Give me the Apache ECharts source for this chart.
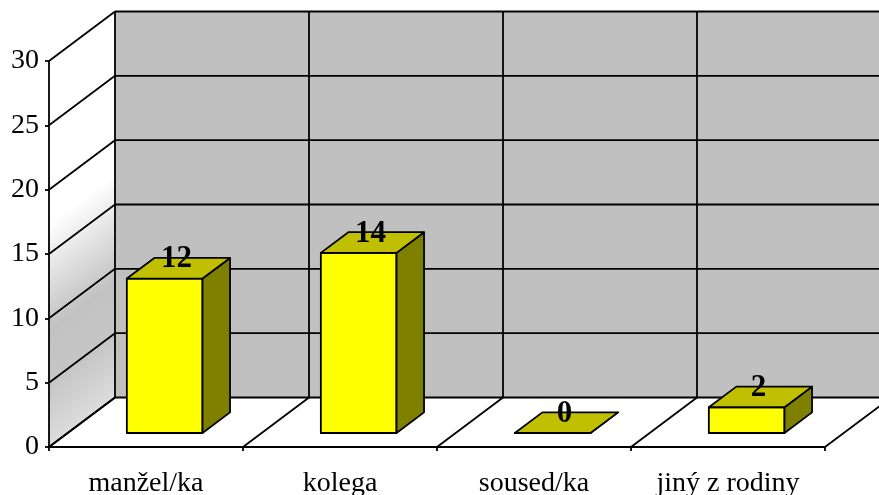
<!DOCTYPE html>
<html>
<head>
<meta charset="utf-8">
<script src="https://cdn.jsdelivr.net/npm/echarts@6/dist/echarts.min.js"></script>
<style>
  html, body { margin: 0; padding: 0; background: #fff; }
  #chart { width: 879px; height: 495px; }
</style>
</head>
<body>
<div id="chart"></div>
<script>
// Data
const categories = ['manžel/ka', 'kolega', 'soused/ka', 'jiný z rodiny'];
const counts = [12, 14, 0, 2];
const yTicks = [0, 5, 10, 15, 20, 25, 30];

// Pseudo-3D geometry: offset from the front plane to the back wall,
// and where each bar sits inside that depth (as fractions of it).
const DX = 66, DY = -49.5;
const BAR_FRONT = 0.283, BAR_BACK = 0.70;
const BAR_RATIO = 0.39;
const FONT = '"Liberation Serif", "Times New Roman", serif';
const LINE_W = 1.8;

const chart = echarts.init(document.getElementById('chart'), null, { renderer: 'canvas' });

function line(x1, y1, x2, y2) {
  return { type: 'line', shape: { x1, y1, x2, y2 }, style: { stroke: '#000', lineWidth: LINE_W } };
}

// Walls, floor and their grid lines
function renderWalls(params, api) {
  const n = categories.length;
  const bw = api.size([1, 0])[0];
  const x0 = api.coord([0, 0])[0] - bw / 2;
  const xN = x0 + bw * n;
  const y0 = api.coord([0, 0])[1];
  const yTop = api.coord([0, yTicks[yTicks.length - 1]])[1];

  // gradient across the left wall, running perpendicular to its slanted edges
  const len = Math.hypot(DX, DY);
  const nx = -DY / len, ny = DX / len;
  const span = (y0 - yTop) * ny;
  const wallFill = new echarts.graphic.LinearGradient(
    x0, yTop, x0 + nx * span, yTop + ny * span,
    [
      { offset: 0, color: '#ffffff' },
      { offset: 0.42, color: '#ffffff' },
      { offset: 0.70, color: '#c2c2c2' },
      { offset: 0.84, color: '#c6c6c6' },
      { offset: 1, color: '#dcdcdc' }
    ],
    true
  );

  const children = [
    { type: 'polygon', shape: { points: [[x0, y0], [x0, yTop], [x0 + DX, yTop + DY], [x0 + DX, y0 + DY]] },
      style: { fill: wallFill } },
    { type: 'rect', shape: { x: x0 + DX, y: yTop + DY, width: bw * n, height: y0 - yTop },
      style: { fill: '#c0c0c0' } },
    { type: 'polygon', shape: { points: [[x0, y0], [xN, y0], [xN + DX, y0 + DY], [x0 + DX, y0 + DY]] },
      style: { fill: '#ffffff' } }
  ];
  yTicks.forEach(v => {
    const y = api.coord([0, v])[1];
    children.push(line(x0, y, x0 + DX, y + DY));
    children.push(line(x0 + DX, y + DY, xN + DX, y + DY));
  });
  for (let i = 0; i <= n; i++) {
    const x = x0 + bw * i;
    children.push(line(x, y0, x + DX, y0 + DY));
    children.push(line(x + DX, y0 + DY, x + DX, yTop + DY));
  }
  return { type: 'group', children };
}

// Box-shaped bars with their value labels
function renderBar(params, api) {
  const i = api.value(0), v = api.value(1);
  const bw = api.size([1, 0])[0];
  const base = api.coord([i, 0]);
  const top = api.coord([i, v]);
  const w = bw * BAR_RATIO;
  const fx = base[0] - w / 2 + DX * BAR_FRONT;
  const fyB = base[1] + DY * BAR_FRONT;
  const fyT = top[1] + DY * BAR_FRONT;
  const ddx = DX * (BAR_BACK - BAR_FRONT);
  const ddy = DY * (BAR_BACK - BAR_FRONT);
  const edge = { stroke: '#000', lineWidth: LINE_W, lineJoin: 'round' };
  return {
    type: 'group',
    children: [
      { type: 'rect', shape: { x: fx, y: fyT, width: w, height: fyB - fyT },
        style: Object.assign({ fill: '#ffff00' }, edge) },
      { type: 'polygon', shape: { points: [[fx + w, fyB], [fx + w, fyT], [fx + w + ddx, fyT + ddy], [fx + w + ddx, fyB + ddy]] },
        style: Object.assign({ fill: '#808000' }, edge) },
      { type: 'polygon', shape: { points: [[fx, fyT], [fx + w, fyT], [fx + w + ddx, fyT + ddy], [fx + ddx, fyT + ddy]] },
        style: Object.assign({ fill: '#c0c000' }, edge) },
      { type: 'text', x: fx + w / 2 + ddx / 2 - 2, y: fyT + ddy / 2 - 9,
        style: { text: String(v), fill: '#000', font: 'bold 31px ' + FONT, align: 'center', verticalAlign: 'middle' } }
    ]
  };
}

chart.setOption({
  animation: false,
  backgroundColor: '#ffffff',
  grid: { left: 49, right: 54, top: 61, bottom: 48, containLabel: false, outerBoundsMode: 'none' },
  xAxis: {
    type: 'category',
    data: categories,
    z: 10,
    axisLine: { show: true, lineStyle: { color: '#000', width: LINE_W } },
    axisTick: { show: true, length: 4, lineStyle: { color: '#000', width: LINE_W } },
    axisLabel: { color: '#000', fontFamily: FONT, fontSize: 28, margin: 23 },
    splitLine: { show: false }
  },
  yAxis: {
    type: 'value',
    min: 0, max: 30, interval: 5,
    z: 10,
    axisLine: { show: true, lineStyle: { color: '#000', width: LINE_W } },
    axisTick: { show: true, length: 4, lineStyle: { color: '#000', width: LINE_W } },
    axisLabel: { color: '#000', fontFamily: FONT, fontSize: 28, margin: 10 },
    splitLine: { show: false }
  },
  series: [
    { type: 'custom', name: 'walls', z: 1, silent: true, clip: false,
      data: [[0, 0]], encode: { x: 0, y: 1 }, renderItem: renderWalls },
    { type: 'custom', name: 'count', z: 3, clip: false,
      data: counts.map((v, i) => [i, v]), encode: { x: 0, y: 1 }, renderItem: renderBar }
  ]
});
</script>
</body>
</html>
